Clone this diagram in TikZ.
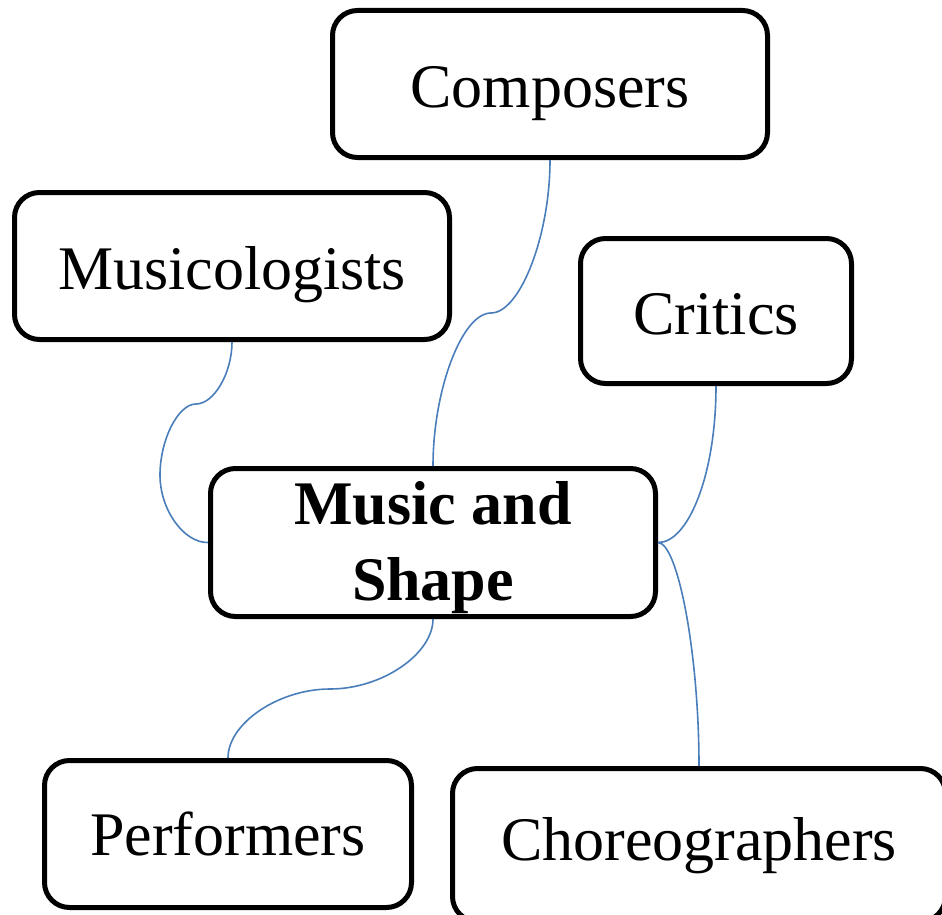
\documentclass[tikz,border=0pt]{standalone}
\usepackage{fontspec}
\setmainfont{Liberation Serif}
\definecolor{connblue}{HTML}{4A7EBB}
\begin{document}
\begin{tikzpicture}[x=1pt,y=-1pt,
  box/.style={draw=black,line width=5pt,rounded corners=25pt,fill=white,
    align=center,inner sep=0pt,font=\fontsize{62}{76}\selectfont},
  oneline/.style={text height=#1,text depth=0pt},
  conn/.style={draw=connblue,line width=1.6pt}]
\useasboundingbox (0,0) rectangle (942,915);
\clip (0,0) rectangle (942,915);
\node[box,oneline=48pt,minimum width=435pt,minimum height=147pt] (comp) at (550,84) {Composers};
\node[box,oneline=46pt,minimum width=435pt,minimum height=147pt] (musi) at (232,266) {Musicologists};
\node[box,oneline=46pt,minimum width=271pt,minimum height=145pt] (crit) at (716,311) {Critics};
\node[box,text height=129pt,minimum width=445pt,minimum height=148pt] (music) at (433,542.5) {\bfseries Music and\\\bfseries Shape};
\node[box,oneline=42pt,minimum width=367pt,minimum height=147pt] (perf) at (228,834) {Performers};
\node[box,oneline=30pt,minimum width=493pt,minimum height=153pt] (chor) at (699,845) {Choreographers};
\draw[conn] (comp.south) .. controls (550,236) and (520,313) .. (491,313)
  .. controls (462,313) and (433,390) .. (music.north);
\draw[conn] (musi.south) .. controls (232,373) and (214,404) .. (196,404)
  .. controls (178,404) and (160,440) .. (160,475)
  .. controls (160,510) and (184,543) .. (music.west);
\draw[conn] (crit.south) .. controls (716,475) and (688,543) .. (music.east);
\draw[conn] (music.east) .. controls (678,543) and (699,654) .. (chor.north);
\draw[conn] (music.south) .. controls (433,654) and (382,689) .. (330,689)
  .. controls (279,689) and (228,723) .. (perf.north);
\end{tikzpicture}
\end{document}
